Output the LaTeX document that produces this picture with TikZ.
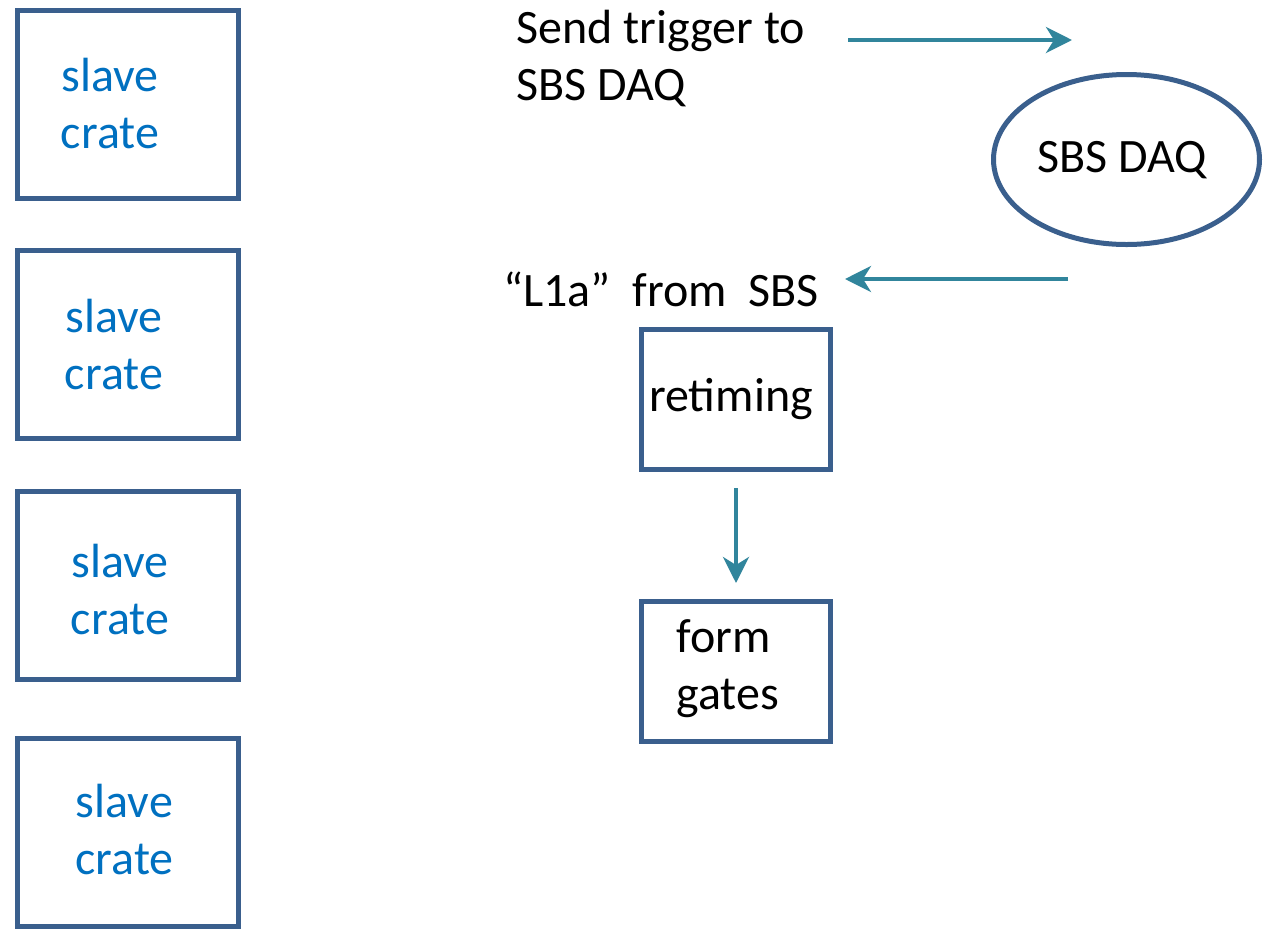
\documentclass[tikz,border=0pt]{standalone}
\usepackage{fontspec}
\setmainfont{Carlito}
\usetikzlibrary{arrows.meta,shapes.geometric}
\definecolor{boxc}{HTML}{3A5F8D}
\definecolor{bluet}{HTML}{0070C0}
\definecolor{arrc}{HTML}{31859C}
\tikzset{
  crate/.style={draw=boxc, line width=2.5pt, rectangle, minimum width=110.5pt, minimum height=94pt, inner sep=0pt},
  smallbox/.style={draw=boxc, line width=2.5pt, rectangle, minimum width=94.5pt, minimum height=70pt, inner sep=0pt},
  txt/.style={font=\fontsize{24}{28.5}\selectfont, inner sep=0pt, align=left},
  bluetxt/.style={txt, text=bluet, align=center},
  conn/.style={draw=arrc, line width=2pt, -{Stealth[length=13pt, width=13pt, inset=4pt]}}
}
\begin{document}
\begin{tikzpicture}[x=0.5pt, y=-0.5pt]
\useasboundingbox (0,0) rectangle (1265,928);
% slave crates
\node[crate] (c1) at (128,104) {};
\node[crate] (c2) at (128,344) {};
\node[crate] (c3) at (128,585.5) {};
\node[crate] (c4) at (128,832) {};
\node[bluetxt] (t1) at (110,103.5) {slave\\crate};
\node[bluetxt] (t2) at (114,345) {slave\\crate};
\node[bluetxt] (t3) at (120,589.5) {slave\\crate};
\node[bluetxt] (t4) at (124.5,829.5) {slave\\crate};
% top text
\node[txt, anchor=west] (send) at (516,59) {Send trigger to\\SBS DAQ};
% ellipse
\node[draw=boxc, line width=2.5pt, ellipse, minimum width=133pt, minimum height=85pt, inner sep=0pt] (daq) at (1126.5,159.5) {};
\node[txt] (daqt) at (1122,160) {SBS DAQ};
% arrows
\coordinate (a1s) at (848,40);
\coordinate (a1e) at (1072,40);
\draw[conn] (a1s) -- (a1e);
\coordinate (a2s) at (1068,279);
\coordinate (a2e) at (845,279);
\draw[conn] (a2s) -- (a2e);
\node[txt, anchor=west] (l1a) at (503,289) {“L1a”\ \ from\ \ SBS};
% retiming
\node[smallbox] (ret) at (736,399.5) {};
\node[txt] (rett) at (731,399) {retiming};
\node[smallbox] (form) at (736,671.5) {};
\node[txt, anchor=west] (formt) at (676,668.5) {form\\gates};
\coordinate (a3s) at (736,488);
\coordinate (a3e) at (736,583);
\draw[conn] (a3s) -- (a3e);
\end{tikzpicture}
\end{document}
